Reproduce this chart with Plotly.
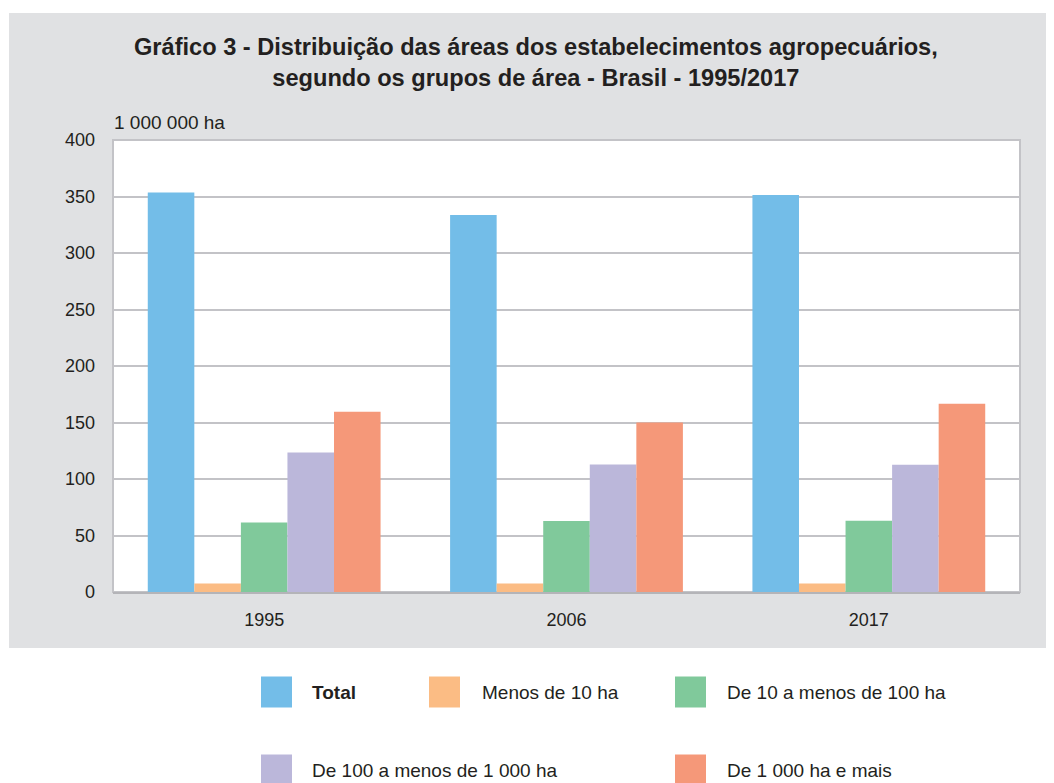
import plotly.graph_objects as go

years = ["1995", "2006", "2017"]
series_names = ["Total", "Menos de 10 ha", "De 10 a menos de 100 ha",
                "De 100 a menos de 1 000 ha", "De 1 000 ha e mais"]
total = [353.6, 333.7, 351.3]
menos_10 = [7.6, 7.5, 7.6]
de_10_100 = [61.5, 62.9, 63.0]
de_100_1000 = [123.5, 112.8, 112.6]
de_1000_mais = [159.5, 150.0, 166.5]
colors = ["#73bde8", "#fbbc84", "#80c99b", "#bbb7da", "#f59879"]
y_ticks = [0, 50, 100, 150, 200, 250, 300, 350, 400]

values = [total, menos_10, de_10_100, de_100_1000, de_1000_mais]

# page body has an 8px margin; figure coordinates = viewport - 8
OFF = 8
W, H = 1046, 775
L, R, T, B = 105, 34, 132, 191
pw, ph = W - L - R, H - T - B

def px(x):
    return (x - OFF - L) / pw

def py(y):
    return (H - B - (y - OFF)) / ph

FONT = "Liberation Sans, Arial, sans-serif"
TXT = "#231f20"

fig = go.Figure()
for name, vals, col in zip(series_names, values, colors):
    fig.add_trace(go.Bar(x=years, y=vals, name=name, marker_color=col,
                         marker_line_width=0, showlegend=False))

shapes = [
    dict(type="rect", xref="paper", yref="paper", layer="below",
         x0=px(9), x1=px(1070), y0=py(648), y1=py(13),
         fillcolor="#e0e1e3", line_width=0),
    dict(type="rect", xref="paper", yref="paper", layer="below",
         x0=0, x1=1, y0=0, y1=1, fillcolor="white",
         line=dict(color="#c3c3c7", width=2)),
]
annotations = [
    dict(text="<b>Gráfico 3 - Distribuição das áreas dos estabelecimentos agropecuários,<br>segundo os grupos de área - Brasil - 1995/2017</b>",
         xref="paper", yref="paper", x=px(536), y=py(62.5), xanchor="center", yanchor="middle",
         showarrow=False, font=dict(family=FONT, size=23.6, color=TXT), align="center"),
    dict(text="1 000 000 ha", xref="paper", yref="paper", x=px(112), y=py(122),
         xanchor="left", yanchor="middle", showarrow=False,
         font=dict(family=FONT, size=19, color=TXT)),
]

legend_swatch = [(261, 692), (429, 692), (675, 692), (261, 770), (675, 770)]
legend_text_x = [310, 480, 725, 310, 725]
for i, (name, col) in enumerate(zip(series_names, colors)):
    sx, sy = legend_swatch[i]
    shapes.append(dict(type="rect", xref="paper", yref="paper",
                       x0=px(sx), x1=px(sx + 31), y0=py(sy + 15.5), y1=py(sy - 15.5),
                       fillcolor=col, line_width=0))
    txt = f"<b>{name}</b>" if i == 0 else name
    annotations.append(dict(text=txt, xref="paper", yref="paper", x=px(legend_text_x[i]), y=py(sy),
                            xanchor="left", yanchor="middle", showarrow=False,
                            font=dict(family=FONT, size=19, color=TXT)))

fig.update_layout(
    width=W, height=H, margin=dict(l=L, r=R, t=T, b=B),
    paper_bgcolor="white", plot_bgcolor="white",
    barmode="group", bargap=0.23, bargroupgap=0,
    shapes=shapes, annotations=annotations,
    font=dict(family=FONT, size=18, color=TXT),
    xaxis=dict(showgrid=False, showline=True, linecolor="#b4b4b8", linewidth=2,
               ticks="", tickfont=dict(size=18), ticklabelstandoff=10),
    yaxis=dict(range=[0, 400], tickvals=y_ticks, showgrid=True, gridcolor="#c3c3c7",
               gridwidth=2, zeroline=False, showline=False, ticks="",
               tickfont=dict(size=18), ticklabelstandoff=17),
)

fig.write_html("out.html")
